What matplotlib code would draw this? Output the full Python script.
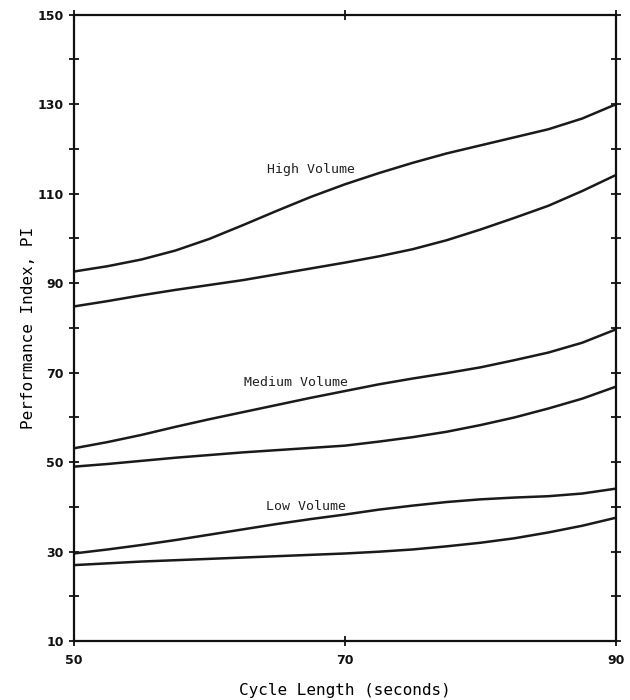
import numpy as np
import matplotlib
matplotlib.use('Agg')
import matplotlib.pyplot as plt

# cycle length (seconds), read every 2.5 s
cycle = [50, 52.5, 55, 57.5, 60, 62.5, 65, 67.5, 70, 72.5, 75, 77.5, 80, 82.5, 85, 87.5, 90]

# performance index curves
high_upper = [92.6, 93.8, 95.3, 97.3, 99.9, 103.0, 106.2, 109.3, 112.1, 114.6, 116.9, 119.0, 120.8, 122.6, 124.4, 126.8, 130.0]
high_lower = [84.8, 86.0, 87.3, 88.5, 89.6, 90.7, 92.0, 93.3, 94.6, 96.0, 97.6, 99.6, 102.0, 104.6, 107.3, 110.6, 114.2]
med_upper = [53.1, 54.5, 56.1, 57.9, 59.6, 61.2, 62.8, 64.4, 65.9, 67.4, 68.7, 69.9, 71.2, 72.8, 74.5, 76.7, 79.7]
med_lower = [49.0, 49.6, 50.3, 51.0, 51.6, 52.2, 52.7, 53.2, 53.7, 54.6, 55.6, 56.8, 58.3, 60.0, 62.0, 64.2, 66.9]
low_upper = [29.6, 30.5, 31.5, 32.6, 33.8, 35.0, 36.2, 37.3, 38.3, 39.4, 40.3, 41.1, 41.7, 42.1, 42.4, 43.0, 44.1]
low_lower = [27.0, 27.4, 27.8, 28.1, 28.4, 28.7, 29.0, 29.3, 29.6, 30.0, 30.5, 31.2, 32.0, 33.0, 34.3, 35.8, 37.6]

group_labels = ['High Volume', 'Medium Volume', 'Low Volume']
label_x = [67.5, 66.4, 67.1]
label_y = [115.3, 67.9, 40.0]

x_ticks = [50, 70, 90]
y_ticks = list(range(10, 151, 20))
y_minor = list(range(20, 151, 20))

fig = plt.figure(figsize=(6.3, 7), dpi=100)
ax = fig.add_axes([0.117, 0.084, 0.861, 0.895])

for curve in [high_upper, high_lower, med_upper, med_lower, low_upper, low_lower]:
    ax.plot(cycle, curve, color='#1a1a1a', lw=1.8, solid_capstyle='round')

for txt, tx, ty in zip(group_labels, label_x, label_y):
    ax.text(tx, ty, txt, ha='center', va='center', fontsize=9.5,
            family='DejaVu Sans Mono', color='#222222')

ax.set_xlim(50, 90)
ax.set_ylim(10, 150)
ax.set_xticks(x_ticks)
ax.set_yticks(y_ticks)
ax.set_yticks(y_minor, minor=True)
ax.tick_params(axis='both', which='both', direction='inout', length=7, width=1.3,
               labelsize=9, colors='#111111', right=True, top=True)
ax.tick_params(axis='x', pad=6)
for lab in ax.get_xticklabels() + ax.get_yticklabels():
    lab.set_fontweight('bold')

for sp in ax.spines.values():
    sp.set_linewidth(1.6)
    sp.set_color('#111111')

ax.set_xlabel('Cycle Length (seconds)', fontsize=11.5, family='DejaVu Sans Mono')
ax.xaxis.set_label_coords(0.5, -0.067)
ax.set_ylabel('Performance Index, PI', fontsize=11.5, family='DejaVu Sans Mono', labelpad=1)

fig.savefig('out.png', dpi=100)
